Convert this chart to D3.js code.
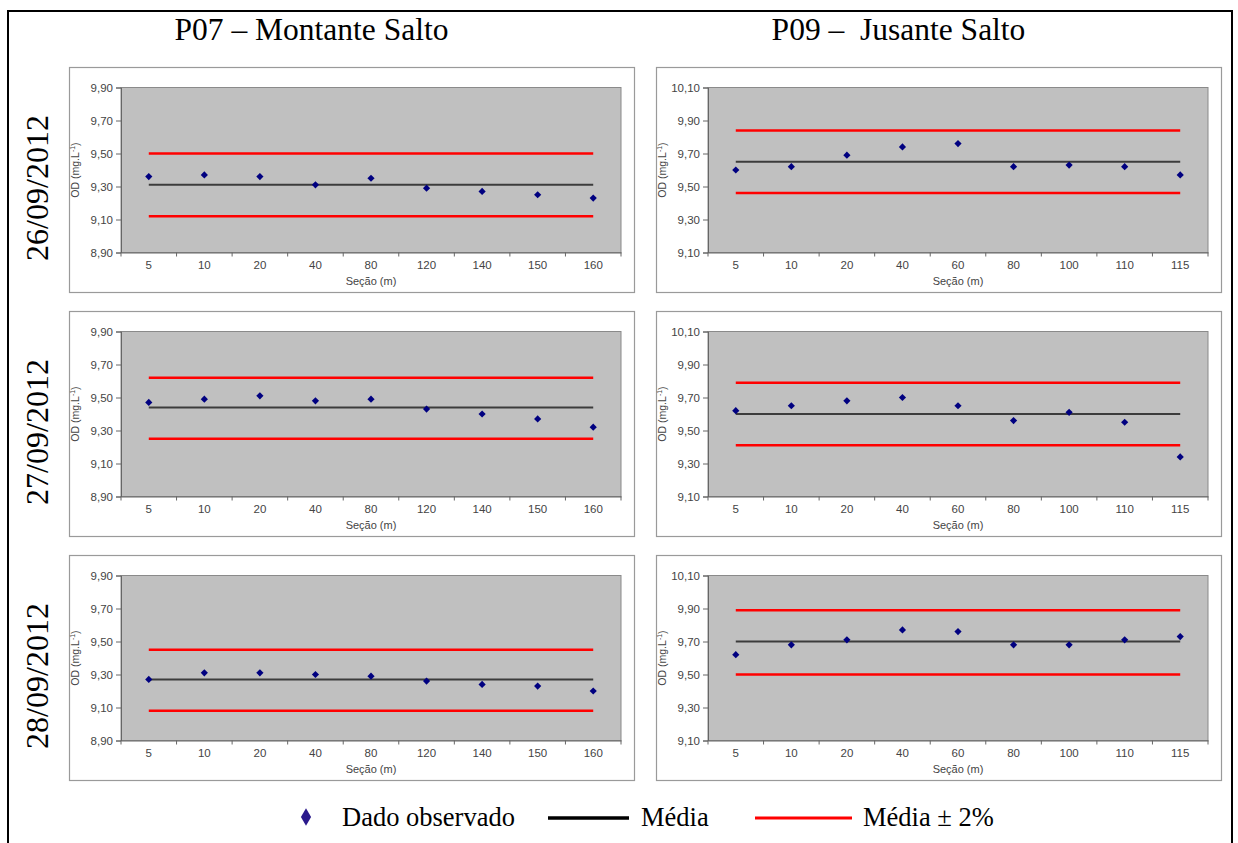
<!DOCTYPE html>
<html>
<head>
<meta charset="utf-8">
<script src="https://cdn.jsdelivr.net/npm/d3@7"></script>
<style>
  html, body { margin: 0; padding: 0; background: #fff; }
  svg { display: block; }
</style>
</head>
<body>
<svg id="chart" width="1238" height="843"></svg>
<script>
// ---------- DATA ----------
const stationTitles = ["P07 \u2013 Montante Salto", "P09 \u2013  Jusante Salto"];
const dates = ["26/09/2012", "27/09/2012", "28/09/2012"];

const sectionsP07 = ["5", "10", "20", "40", "80", "120", "140", "150", "160"];
const sectionsP09 = ["5", "10", "20", "40", "60", "80", "100", "110", "115"];

const yTicksP07 = [8.9, 9.1, 9.3, 9.5, 9.7, 9.9];
const yTicksP09 = [9.1, 9.3, 9.5, 9.7, 9.9, 10.1];

// observed OD values (mg/L)
const p07_26 = [9.36, 9.37, 9.36, 9.31, 9.35, 9.29, 9.27, 9.25, 9.23];
const p09_26 = [9.60, 9.62, 9.69, 9.74, 9.76, 9.62, 9.63, 9.62, 9.57];
const p07_27 = [9.47, 9.49, 9.51, 9.48, 9.49, 9.43, 9.40, 9.37, 9.32];
const p09_27 = [9.62, 9.65, 9.68, 9.70, 9.65, 9.56, 9.61, 9.55, 9.34];
const p07_28 = [9.27, 9.31, 9.31, 9.30, 9.29, 9.26, 9.24, 9.23, 9.20];
const p09_28 = [9.62, 9.68, 9.71, 9.77, 9.76, 9.68, 9.68, 9.71, 9.73];

// mean lines and mean ± 2 % lines, as read (order: p07_26, p09_26, p07_27, p09_27, p07_28, p09_28)
const meanValues  = [9.31, 9.65, 9.44, 9.60, 9.27, 9.70];
const upperValues = [9.50, 9.84, 9.62, 9.79, 9.45, 9.89];
const lowerValues = [9.12, 9.46, 9.25, 9.41, 9.08, 9.50];

const legendLabels = ["Dado observado", "M\u00e9dia", "M\u00e9dia \u00b1 2%"];

// ---------- LAYOUT ----------
const svg = d3.select("#chart");
const panelW = 565, panelH = 225;
const colX = [69, 656];
const rowY = [67, 311, 555];
const plotOffX = 52, plotOffY = 20.5, plotW = 500, plotH = 165;
const sans = "Liberation Sans, Arial, sans-serif";
const serif = "Liberation Serif, Times New Roman, serif";

// outer frame
svg.append("rect").attr("x", 8).attr("y", 11).attr("width", 1224).attr("height", 840)
  .attr("fill", "none").attr("stroke", "#000").attr("stroke-width", 2);

// column titles
stationTitles.forEach((t, i) => {
  svg.append("text").attr("x", colX[i] + panelW / 2 - 40).attr("y", 40)
    .attr("text-anchor", "middle")
    .attr("font-family", serif)
    .attr("font-size", 31.5).attr("fill", "#000").style("white-space", "pre")
    .text(t);
});

// row labels
dates.forEach((d, r) => {
  const cy = rowY[r] + 121;
  svg.append("text").attr("transform", `translate(48,${cy}) rotate(-90)`)
    .attr("text-anchor", "middle")
    .attr("font-family", serif)
    .attr("font-size", 32).attr("fill", "#000")
    .text(d);
});

const panels = [
  { r: 0, c: 0, cats: sectionsP07, ticks: yTicksP07, vals: p07_26, k: 0 },
  { r: 0, c: 1, cats: sectionsP09, ticks: yTicksP09, vals: p09_26, k: 1 },
  { r: 1, c: 0, cats: sectionsP07, ticks: yTicksP07, vals: p07_27, k: 2 },
  { r: 1, c: 1, cats: sectionsP09, ticks: yTicksP09, vals: p09_27, k: 3 },
  { r: 2, c: 0, cats: sectionsP07, ticks: yTicksP07, vals: p07_28, k: 4 },
  { r: 2, c: 1, cats: sectionsP09, ticks: yTicksP09, vals: p09_28, k: 5 }
];

const fmt = d => d3.format(".2f")(d).replace(".", ",");

panels.forEach(p => {
  const px = colX[p.c], py = rowY[p.r];
  const g = svg.append("g").attr("transform", `translate(${px},${py})`);
  // panel frame
  g.append("rect").attr("x", 0.5).attr("y", 0.5).attr("width", panelW).attr("height", panelH)
    .attr("fill", "#fff").attr("stroke", "#9a9a9a").attr("stroke-width", 1.2);

  const pg = g.append("g").attr("transform", `translate(${plotOffX},${plotOffY})`);
  const x = d3.scaleBand().domain(p.cats).range([0, plotW]);
  const y = d3.scaleLinear().domain([p.ticks[0], p.ticks[p.ticks.length - 1]]).range([plotH, 0]);

  pg.append("rect").attr("x", 0).attr("y", 0).attr("width", plotW).attr("height", plotH)
    .attr("fill", "#c0c0c0").attr("stroke", "#8a8a8a").attr("stroke-width", 1);

  // y axis
  const ya = pg.append("g").call(d3.axisLeft(y).tickValues(p.ticks).tickFormat(fmt).tickSize(5).tickPadding(3));
  ya.select(".domain").attr("stroke", "#666");
  ya.selectAll(".tick line").attr("stroke", "#666");
  ya.selectAll("text").attr("font-family", sans)
    .attr("font-size", 11.5).attr("fill", "#444");

  // x axis (labels at band centers, ticks at band boundaries)
  const xa = pg.append("g").attr("transform", `translate(0,${plotH})`)
    .call(d3.axisBottom(x).tickSize(0).tickPadding(8));
  xa.select(".domain").attr("stroke", "#666");
  xa.selectAll("text").attr("font-family", sans)
    .attr("font-size", 11.5).attr("fill", "#444");
  const bounds = p.cats.map(c => x(c)).concat([x(p.cats[p.cats.length - 1]) + x.bandwidth()]);
  pg.append("g").selectAll("line").data(bounds).join("line")
    .attr("x1", d => d).attr("x2", d => d).attr("y1", plotH).attr("y2", plotH + 4)
    .attr("stroke", "#666");

  // axis titles
  pg.append("text").attr("x", plotW / 2).attr("y", plotH + 32)
    .attr("text-anchor", "middle")
    .attr("font-family", sans).attr("font-size", 11).attr("fill", "#444")
    .text("Se\u00e7\u00e3o (m)");
  const yt = pg.append("text").attr("transform", `translate(-42,${plotH / 2}) rotate(-90)`)
    .attr("text-anchor", "middle")
    .attr("font-family", sans).attr("font-size", 10.5).attr("fill", "#444");
  yt.append("tspan").text("OD (mg.L");
  yt.append("tspan").attr("dy", -4).attr("font-size", 7).text("-1");
  yt.append("tspan").attr("dy", 4).text(")");

  const xc = c => x(c) + x.bandwidth() / 2;
  const x0 = xc(p.cats[0]), x1 = xc(p.cats[p.cats.length - 1]);

  // ±2% lines
  [upperValues[p.k], lowerValues[p.k]].forEach(v => {
    pg.append("line").attr("x1", x0).attr("x2", x1).attr("y1", y(v)).attr("y2", y(v))
      .attr("stroke", "#ff0000").attr("stroke-width", 2.5);
  });
  // mean line
  pg.append("line").attr("x1", x0).attr("x2", x1).attr("y1", y(meanValues[p.k])).attr("y2", y(meanValues[p.k]))
    .attr("stroke", "#3c3c3c").attr("stroke-width", 2);

  // points
  pg.append("g").selectAll("path").data(p.vals).join("path")
    .attr("d", d3.symbol(d3.symbolSquare, 26)())
    .attr("transform", (d, i) => `translate(${xc(p.cats[i])},${y(d)}) rotate(45)`)
    .attr("fill", "#000080");
});

// legend
const lg = svg.append("g");
const ly = 817;
lg.append("path").attr("d", d3.symbol(d3.symbolDiamond, 90)())
  .attr("transform", `translate(306,${ly})`).attr("fill", "#2b1a8c");
lg.append("text").attr("x", 342).attr("y", ly + 9).text(legendLabels[0]);
lg.append("line").attr("x1", 548).attr("x2", 629).attr("y1", ly + 1).attr("y2", ly + 1)
  .attr("stroke", "#000").attr("stroke-width", 3.5);
lg.append("text").attr("x", 641).attr("y", ly + 9).text(legendLabels[1]);
lg.append("line").attr("x1", 755).attr("x2", 852).attr("y1", ly + 1).attr("y2", ly + 1)
  .attr("stroke", "#ff0000").attr("stroke-width", 3);
lg.append("text").attr("x", 863).attr("y", ly + 9).text(legendLabels[2]);
lg.selectAll("text").attr("font-family", serif)
  .attr("font-size", 26.5).attr("fill", "#000");
</script>
</body>
</html>
